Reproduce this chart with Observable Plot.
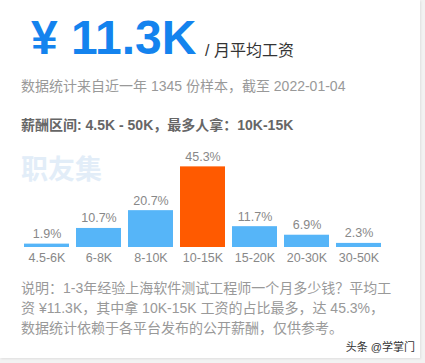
<!DOCTYPE html>
<html>
<head>
<meta charset="utf-8">
<script src="https://cdn.jsdelivr.net/npm/d3@7"></script>
<script src="https://cdn.jsdelivr.net/npm/@observablehq/plot@0.6"></script>
<style>
  html, body { margin: 0; padding: 0; }
  body { width: 425px; height: 363px; background: #f2f2f2; position: relative; overflow: hidden;
         font-family: "Liberation Sans", Arial, "Noto Sans CJK SC", sans-serif; }
  #card { position: absolute; left: 0; top: 0; width: 420px; height: 358px; background: #fff;
          box-shadow: 1px 1px 2px rgba(0,0,0,0.08); }
  .abs { position: absolute; white-space: nowrap; }
  #big { left: 31px; top: 14px; font-size: 48px; line-height: 48px; font-weight: bold; color: #1483ee; }
  #unit { left: 205px; top: 41px; font-size: 16px; line-height: 20px; color: #333; }
  #sub { left: 21px; top: 76px; font-size: 14px; line-height: 20px; color: #999; }
  #range { left: 21px; top: 115px; font-size: 14px; line-height: 20px; font-weight: bold; color: #666; }
  #wm { left: 21px; top: 155px; font-size: 27px; line-height: 30px; font-weight: bold; color: #e2edf8; }
  #chart { left: 0; top: 140px; }
  #desc { left: 21px; top: 278px; font-size: 14px; line-height: 20px; color: #999; }
  #foot { right: 10px; top: 339px; font-size: 11px; line-height: 16px; color: #333; }
</style>
</head>
<body>
<div id="card"></div>
<div class="abs" id="big">¥ 11.3K</div>
<div class="abs" id="unit">/ 月平均工资</div>
<div class="abs" id="sub">数据统计来自近一年 1345 份样本，截至 2022-01-04</div>
<div class="abs" id="range">薪酬区间: 4.5K - 50K，最多人拿：10K-15K</div>
<div class="abs" id="wm">职友集</div>
<div class="abs" id="chart"></div>
<div class="abs" id="desc">说明：1-3年经验上海软件测试工程师一个月多少钱？平均工<br>资 ¥11.3K，其中拿 10K-15K 工资的占比最多，达 45.3%，<br>数据统计依赖于各平台发布的公开薪酬，仅供参考。</div>
<div class="abs" id="foot">头条 @学掌门</div>
<script>
const categories = ["4.5-6K", "6-8K", "8-10K", "10-15K", "15-20K", "20-30K", "30-50K"];
const shares = [1.9, 10.7, 20.7, 45.3, 11.7, 6.9, 2.3];
const highlight = "10-15K";

const data = categories.map((c, i) => ({cat: c, v: shares[i], hi: c === highlight}));

const chart = Plot.plot({
  width: 420,
  height: 125,
  marginLeft: 14,
  marginRight: 29,
  marginTop: 18,
  marginBottom: 18,
  style: {background: "transparent", color: "#888", fontFamily: "Liberation Sans, Arial, sans-serif", fontSize: "12.5px"},
  x: {domain: categories, padding: 0.13, label: null},
  y: {domain: [0, 50], axis: null},
  marks: [
    Plot.barY(data, {x: "cat", y: "v", fill: d => d.hi ? "#ff5a00" : "#56b5f8"}),
    Plot.text(data, {x: "cat", y: "v", text: d => d.v.toFixed(1) + "%", dy: -10, lineAnchor: "middle", fill: "#888", fontSize: 12.5}),
    Plot.axisX({tickSize: 0, tickPadding: 6, fontSize: 12.5})
  ]
});
document.getElementById("chart").appendChild(chart);
</script>
</body>
</html>
